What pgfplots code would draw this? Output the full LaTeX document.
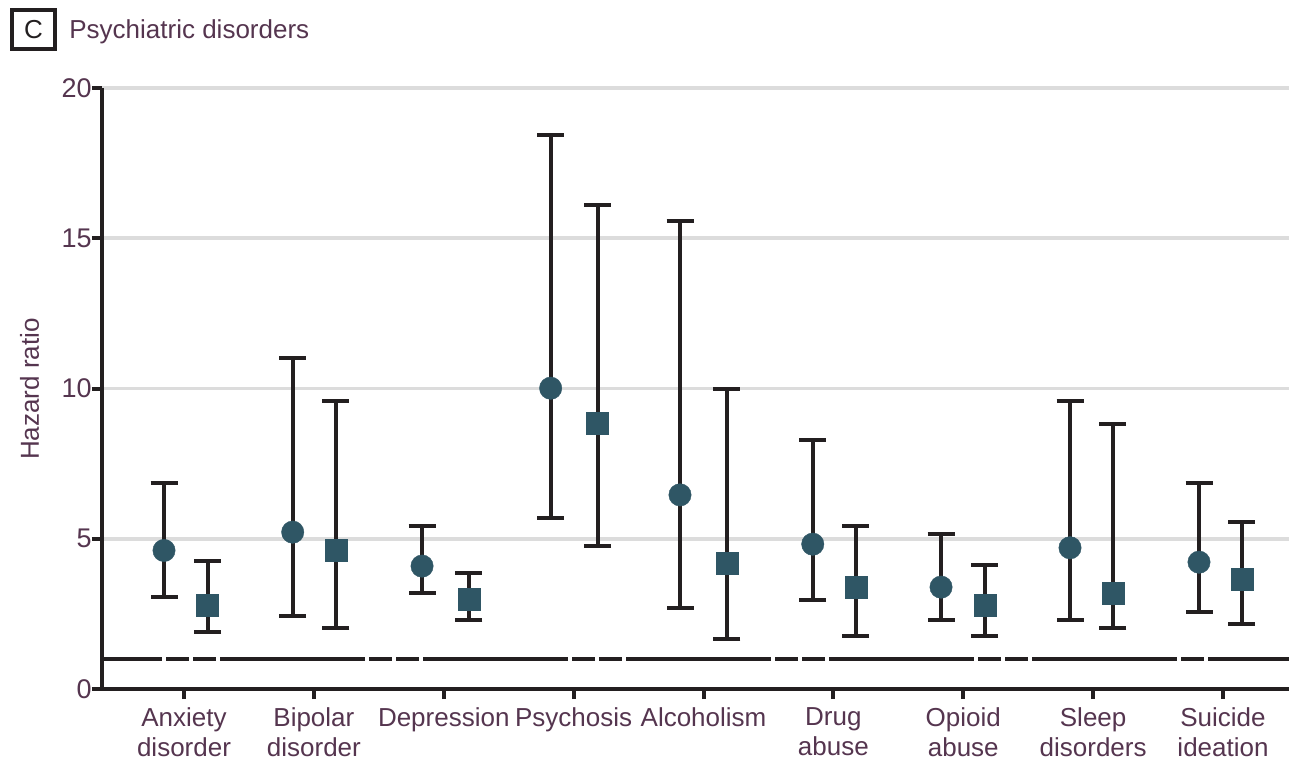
\documentclass[border=0pt]{standalone}
\usepackage{fontspec}
\setmainfont{Liberation Sans}
\usepackage{pgfplots}
\usepackage{pgfplotstable}
\pgfplotsset{compat=1.18}
\definecolor{txt}{HTML}{55354F}
\definecolor{mk}{HTML}{2F5665}
\definecolor{ink}{HTML}{231F20}
\definecolor{grd}{HTML}{DCDCDC}

% circles (first estimate)
\pgfplotstableread{
x y lo hi
-0.154 4.61 3.07 6.84
0.837 5.22 2.42 11.01
1.833 4.09 3.19 5.42
2.823 10.01 5.69 18.43
3.819 6.46 2.69 15.57
4.841 4.82 2.96 8.27
5.829 3.39 2.29 5.15
6.822 4.70 2.29 9.58
7.815 4.22 2.56 6.85
}\circdata

% squares (second estimate)
\pgfplotstableread{
x y lo hi
0.181 2.80 1.89 4.25
1.170 4.63 2.02 9.58
2.194 3.00 2.29 3.85
3.185 8.86 4.75 16.10
4.179 4.17 1.66 9.98
5.172 3.40 1.76 5.42
6.165 2.80 1.76 4.12
7.151 3.20 2.02 8.81
8.144 3.65 2.16 5.55
}\sqdata

\begin{document}
\begin{tikzpicture}
\begin{axis}[
  at={(0pt,0pt)}, anchor=south west,
  scale only axis, width=593.5pt, height=300.5pt,
  xmin=-0.6314, xmax=8.508, ymin=0, ymax=20,
  axis x line*=bottom, axis y line*=left,
  axis line style={line width=2pt, ink},
  xtick={0,...,8},
  xticklabels={Anxiety\\disorder, Bipolar\\disorder, Depression, Psychosis, Alcoholism, Drug\\abuse, Opioid\\abuse, Sleep\\disorders, Suicide\\ideation},
  ytick={0,5,10,15,20},
  tick align=outside, major tick length=5pt,
  tick style={line width=2pt, ink},
  ymajorgrids, grid style={line width=1.8pt, grd},
  xticklabel style={align=center, anchor=north, inner sep=0pt, yshift=-4pt, font=\fontsize{13}{15}\selectfont, text=txt},
  yticklabel style={anchor=east, inner sep=0pt, font=\fontsize{13.5}{15}\selectfont, text=txt},
  /pgf/number format/assume math mode=true,
  clip=false,
]
\addplot[ink, line width=1.8pt, dash pattern=on 72.5pt off 2pt on 11.5pt off 2pt on 11.5pt off 2pt, dash phase=42.5pt, forget plot] coordinates {(-0.6314,1) (7.977,1)};
\addplot[ink, line width=1.8pt, forget plot] coordinates {(7.97,1) (8.508,1)};

\addplot[draw=none, mark=none, forget plot,
  error bars/.cd, y dir=both, y explicit,
  error bar style={draw=ink, line width=2pt},
  error mark options={rotate=90, draw=ink, line width=2pt, mark size=6.75pt}]
  table[x=x, y=y, y error plus expr=\thisrow{hi}-\thisrow{y}, y error minus expr=\thisrow{y}-\thisrow{lo}] {\circdata};
\addplot[draw=none, mark=none, forget plot,
  error bars/.cd, y dir=both, y explicit,
  error bar style={draw=ink, line width=2pt},
  error mark options={rotate=90, draw=ink, line width=2pt, mark size=6.75pt}]
  table[x=x, y=y, y error plus expr=\thisrow{hi}-\thisrow{y}, y error minus expr=\thisrow{y}-\thisrow{lo}] {\sqdata};

\addplot[only marks, mark=*, mark size=5.6pt, mark options={fill=mk, draw=mk, line width=0.2pt}] table[x=x, y=y] {\circdata};
\addplot[only marks, mark=square*, mark size=5.5pt, mark options={fill=mk, draw=mk, line width=0.2pt}] table[x=x, y=y] {\sqdata};
\end{axis}

\draw[line width=2pt, ink] (-45pt,320.15pt) rectangle (-23.65pt,339.5pt);
\node[anchor=base, inner sep=0pt, font=\fontsize{13}{15}\selectfont, text=ink] at (-34.3pt,325.15pt) {C};
\node[anchor=base west, inner sep=0pt, font=\fontsize{13}{15}\selectfont, text=txt] at (-16.5pt,325.15pt) {Psychiatric disorders};
\node[rotate=90, anchor=base, inner sep=0pt, font=\fontsize{13}{15}\selectfont, text=txt] at (-31.5pt,150pt) {Hazard ratio};

\pgfresetboundingbox
\path[use as bounding box] (-51pt,-36pt) rectangle (593.5pt,344.5pt);
\end{tikzpicture}
\end{document}
